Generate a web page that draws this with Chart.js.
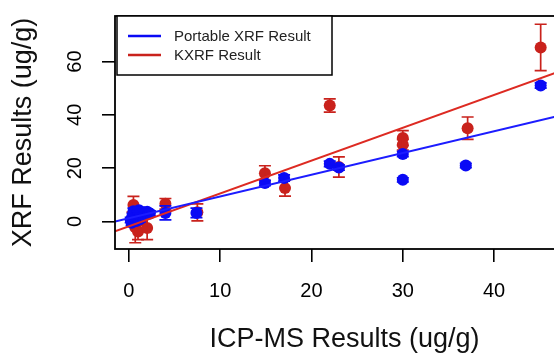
<!DOCTYPE html>
<html lang="en">
  <head>
    <meta charset="UTF-8" />
    <script src="https://cdn.jsdelivr.net/npm/chart.js@4.4.1/dist/chart.umd.min.js"></script>
    <title>XRF vs ICP-MS</title>
    <style>
      body {
        margin: 0;
        padding: 0;
        background: #fff;
        overflow: hidden;
      }
      .wrap {
        width: 580px;
        height: 353px;
      }
    </style>
  </head>
  <body>
    <div class="wrap">
      <canvas id="xrf" width="580" height="353"></canvas>
    </div>
    <script>
      // Portable XRF (blue) : x = ICP-MS, y = XRF, err = +/- bar
      const pxrfX = [0.2, 0.4, 0.5, 0.7, 0.9, 1.1, 1.3, 1.6, 2.0, 2.3, 0.3, 0.8, 1.2, 4.0, 7.4, 14.9, 17.0, 22.0, 23.0, 30.0, 30.0, 36.9, 45.1]
      const pxrfY = [0.5, 2.0, 3.8, 1.2, 2.8, 4.2, 1.8, 3.2, 3.6, 3.0, -0.5, 0.2, 0.8, 3.2, 3.2, 14.4, 16.3, 21.6, 20.2, 25.3, 15.6, 21.0, 51.0]
      const pxrfErr = [1.0, 1.0, 1.2, 1.0, 1.0, 1.2, 1.0, 1.0, 1.0, 1.0, 1.0, 1.0, 1.0, 2.6, 1.8, 1.0, 1.2, 1.0, 1.0, 1.0, 0.8, 0.8, 1.0]

      // KXRF (red)
      const kxrfX = [0.5, 0.7, 1.0, 2.0, 0.4, 1.4, 4.0, 7.5, 14.9, 17.1, 22.0, 23.0, 30.0, 30.0, 37.1, 45.1]
      const kxrfY = [6.2, -2.2, -3.8, -2.5, 1.5, 0.5, 6.6, 3.4, 18.1, 12.5, 43.5, 20.4, 31.3, 28.8, 35.0, 65.3]
      const kxrfErr = [3.2, 5.8, 3.0, 4.3, 2.0, 2.0, 2.0, 3.2, 2.8, 3.0, 2.5, 3.8, 2.8, 2.0, 4.2, 8.7]

      // fitted lines, end points
      const pxrfFitX = [-1.52, 48.75]
      const pxrfFitY = [0.0, 41.0]
      const kxrfFitX = [-1.52, 48.75]
      const kxrfFitY = [-3.7, 58.3]

      const xTicks = [0, 10, 20, 30, 40]
      const yTicks = [0, 20, 40, 60]
      const legendLabels = ['Portable XRF Result', 'KXRF Result']

      const BLUE = '#0a0af5'
      const RED = '#c9221c'
      const FONT = 'Liberation Sans, Arial, Helvetica, sans-serif'

      const pts = (xs, ys) => xs.map((x, i) => ({ x: x, y: ys[i] }))

      const errorBars = {
        id: 'errorBars',
        afterDatasetDraw(chart, args) {
          const ds = chart.data.datasets[args.index]
          if (!ds.err) return
          const { ctx, chartArea, scales } = chart
          ctx.save()
          ctx.beginPath()
          ctx.rect(chartArea.left, chartArea.top, chartArea.right - chartArea.left, chartArea.bottom - chartArea.top)
          ctx.clip()
          ctx.strokeStyle = ds.backgroundColor
          ctx.lineWidth = 1.7
          ds.data.forEach((p, i) => {
            const px = scales.x.getPixelForValue(p.x)
            const top = scales.y.getPixelForValue(p.y + ds.err[i])
            const bot = scales.y.getPixelForValue(p.y - ds.err[i])
            ctx.beginPath()
            ctx.moveTo(px, top)
            ctx.lineTo(px, bot)
            ctx.moveTo(px - 6, top)
            ctx.lineTo(px + 6, top)
            ctx.moveTo(px - 6, bot)
            ctx.lineTo(px + 6, bot)
            ctx.stroke()
          })
          ctx.restore()
        },
      }

      const frame = {
        id: 'frame',
        afterDraw(chart) {
          const { ctx, chartArea, scales } = chart
          ctx.save()
          ctx.strokeStyle = '#000'
          ctx.lineWidth = 1.8
          ctx.strokeRect(chartArea.left, chartArea.top, chartArea.right - chartArea.left, chartArea.bottom - chartArea.top)

          // rotated y tick labels
          ctx.fillStyle = '#000'
          ctx.font = '20px ' + FONT
          ctx.textAlign = 'center'
          ctx.textBaseline = 'middle'
          yTicks.forEach((v) => {
            ctx.save()
            ctx.translate(75, scales.y.getPixelForValue(v))
            ctx.rotate(-Math.PI / 2)
            ctx.fillText(String(v), 0, 0)
            ctx.restore()
          })

          // legend box
          const lx = 117, ly = 16, lw = 215, lh = 59
          ctx.fillStyle = '#fff'
          ctx.fillRect(lx, ly, lw, lh)
          ctx.lineWidth = 1.5
          ctx.strokeRect(lx, ly, lw, lh)
          const colors = [BLUE, RED]
          ctx.font = '15px ' + FONT
          ctx.textAlign = 'left'
          legendLabels.forEach((label, i) => {
            const yy = 36 + i * 19
            ctx.strokeStyle = colors[i]
            ctx.lineWidth = 2.5
            ctx.beginPath()
            ctx.moveTo(128, yy)
            ctx.lineTo(161, yy)
            ctx.stroke()
            ctx.fillStyle = '#222'
            ctx.fillText(label, 174, yy + 1)
          })
          ctx.restore()
        },
      }

      new Chart(document.getElementById('xrf'), {
        type: 'scatter',
        data: {
          datasets: [
            {
              label: legendLabels[0] + ' fit',
              type: 'line',
              data: pts(pxrfFitX, pxrfFitY),
              borderColor: '#1c1cff',
              borderWidth: 2,
              pointRadius: 0,
              order: 1,
            },
            {
              label: legendLabels[1] + ' fit',
              type: 'line',
              data: pts(kxrfFitX, kxrfFitY),
              borderColor: '#dd2a22',
              borderWidth: 2,
              pointRadius: 0,
              order: 2,
            },
            {
              label: legendLabels[0],
              data: pts(pxrfX, pxrfY),
              err: pxrfErr,
              backgroundColor: BLUE,
              borderWidth: 0,
              pointRadius: 6,
              order: 3,
            },
            {
              label: legendLabels[1],
              data: pts(kxrfX, kxrfY),
              err: kxrfErr,
              backgroundColor: RED,
              borderWidth: 0,
              pointRadius: 6,
              order: 4,
            },
          ],
        },
        options: {
          responsive: false,
          animation: false,
          layout: { padding: { top: 16, right: 1, left: 0, bottom: 0 } },
          plugins: {
            legend: { display: false },
            tooltip: { enabled: false },
          },
          scales: {
            x: {
              type: 'linear',
              min: -1.52,
              max: 48.75,
              afterBuildTicks: (s) => {
                s.ticks = xTicks.map((v) => ({ value: v }))
              },
              afterFit: (s) => {
                s.height = 104
              },
              grid: {
                drawOnChartArea: false,
                drawTicks: true,
                tickLength: 13,
                color: '#000',
                lineWidth: 1.6,
              },
              border: { display: false },
              ticks: {
                color: '#000',
                padding: 17,
                maxRotation: 0,
                font: { family: FONT, size: 20, lineHeight: 1.2 },
              },
              title: {
                display: true,
                text: 'ICP-MS Results (ug/g)',
                color: '#111',
                font: { family: FONT, size: 27, lineHeight: 1 },
                padding: { top: 0, bottom: 0 },
              },
            },
            y: {
              type: 'linear',
              min: -10.35,
              max: 77.1,
              afterBuildTicks: (s) => {
                s.ticks = yTicks.map((v) => ({ value: v }))
              },
              afterFit: (s) => {
                s.width = 115
              },
              grid: {
                drawOnChartArea: false,
                drawTicks: true,
                tickLength: 13,
                color: '#000',
                lineWidth: 1.6,
              },
              border: { display: false },
              ticks: { display: false },
              title: {
                display: true,
                text: 'XRF Results (ug/g)',
                color: '#111',
                font: { family: FONT, size: 27, lineHeight: 1 },
                padding: { top: 10, bottom: 0 },
              },
            },
          },
        },
        plugins: [errorBars, frame],
      })
    </script>
  </body>
</html>
